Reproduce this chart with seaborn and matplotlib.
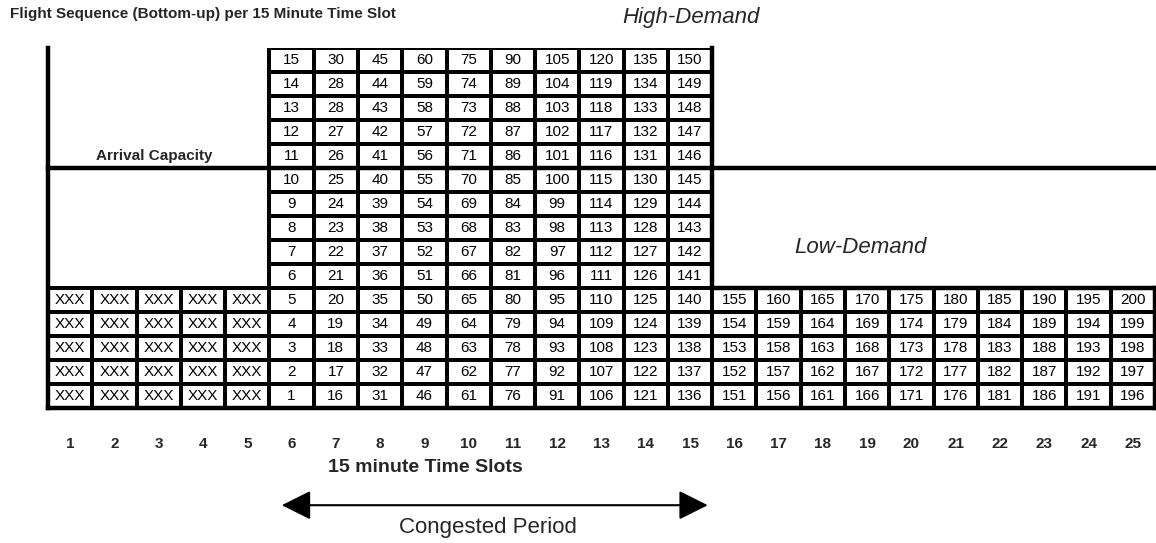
import numpy as np
import matplotlib
matplotlib.use("Agg")
import matplotlib.pyplot as plt
from matplotlib.colors import ListedColormap
import seaborn as sns

# time slots along the bottom
slots = list(range(1, 26))

# slots 1-5: flights already handled (levels 1-5)
early_label = "XXX"
early_slots = [1, 2, 3, 4, 5]

# congested period, slots 6-15, levels 1..15 bottom-up
congested = {
    6: [1, 2, 3, 4, 5, 6, 7, 8, 9, 10, 11, 12, 13, 14, 15],
    7: [16, 17, 18, 19, 20, 21, 22, 23, 24, 25, 26, 27, 28, 28, 30],
    8: [31, 32, 33, 34, 35, 36, 37, 38, 39, 40, 41, 42, 43, 44, 45],
    9: [46, 47, 48, 49, 50, 51, 52, 53, 54, 55, 56, 57, 58, 59, 60],
    10: [61, 62, 63, 64, 65, 66, 67, 68, 69, 70, 71, 72, 73, 74, 75],
    11: [76, 77, 78, 79, 80, 81, 82, 83, 84, 85, 86, 87, 88, 89, 90],
    12: [91, 92, 93, 94, 95, 96, 97, 98, 99, 100, 101, 102, 103, 104, 105],
    13: [106, 107, 108, 109, 110, 111, 112, 113, 114, 115, 116, 117, 118, 119, 120],
    14: [121, 122, 123, 124, 125, 126, 127, 128, 129, 130, 131, 132, 133, 134, 135],
    15: [136, 137, 138, 139, 140, 141, 142, 143, 144, 145, 146, 147, 148, 149, 150],
}

# after congestion, slots 16-25, levels 1..5
late = {
    16: [151, 152, 153, 154, 155],
    17: [156, 157, 158, 159, 160],
    18: [161, 162, 163, 164, 165],
    19: [166, 167, 168, 169, 170],
    20: [171, 172, 173, 174, 175],
    21: [176, 177, 178, 179, 180],
    22: [181, 182, 183, 184, 185],
    23: [186, 187, 188, 189, 190],
    24: [191, 192, 193, 194, 195],
    25: [196, 197, 198, 199, 200],
}

capacity = 10      # arrival capacity per slot
base_levels = 5    # levels outside congestion
n_levels = 15

# build label grid: row 0 = top level
labels = np.full((n_levels, len(slots)), "", dtype=object)
for s in early_slots:
    for lvl in range(1, base_levels + 1):
        labels[n_levels - lvl, s - 1] = early_label
for s, vals in congested.items():
    for lvl, v in enumerate(vals, start=1):
        labels[n_levels - lvl, s - 1] = str(v)
for s, vals in late.items():
    for lvl, v in enumerate(vals, start=1):
        labels[n_levels - lvl, s - 1] = str(v)

mask = labels == ""
values = np.zeros(labels.shape)

sns.set_style("white")
plt.rcParams['font.family'] = ['Liberation Sans', 'DejaVu Sans']

fig = plt.figure(figsize=(11.56, 5.43), dpi=100)
ax = fig.add_axes([48 / 1156, 135 / 543, 1107 / 1156, 360 / 543])

sns.heatmap(values, mask=mask, annot=labels, fmt="", cmap=ListedColormap(["white"]),
            cbar=False, linewidths=1.5, linecolor="black",
            annot_kws={"fontsize": 11, "color": "black"},
            xticklabels=slots, yticklabels=False, ax=ax)

# no borders on empty cells
mesh = ax.collections[0]
edges = [(0, 0, 0, 0) if m else (0, 0, 0, 1) for m in mask.ravel()]
mesh.set_edgecolor(edges)

ax.tick_params(axis="x", length=0, pad=21, labelsize=11, rotation=0)
for t in ax.get_xticklabels():
    t.set_fontweight("bold")

# heavy structural lines
n_cols = len(slots)
first_cong = min(congested) - 1
last_cong = max(congested)
cap_row = n_levels - capacity
base_row = n_levels - base_levels
kw = dict(color="black", lw=3.2, solid_capstyle="projecting", clip_on=False)
ax.plot([0, 0], [0, n_levels], **kw)
ax.plot([0, n_cols], [n_levels, n_levels], **kw)
ax.plot([0, n_cols], [cap_row, cap_row], **kw)
ax.plot([last_cong, last_cong], [0, base_row], **kw)
ax.plot([last_cong, n_cols], [base_row, base_row], **kw)
ax.plot([n_cols, n_cols], [base_row, n_levels], **kw)

# annotations
fig.text(0.009, 1 - 14 / 543, "Flight Sequence (Bottom-up) per 15 Minute Time Slot",
         fontsize=11, fontweight="bold", va="center", ha="left")
fig.text(691 / 1156, 1 - 18 / 543, "High-Demand", fontsize=16, style="italic",
         va="center", ha="center")
ax.text(2.4, cap_row - 0.5, "Arrival Capacity", fontsize=11, fontweight="bold",
        ha="center", va="center")
ax.text(18.35, 8.3, "Low-Demand", fontsize=16, style="italic", ha="center", va="center")
ax.text(8.53, 17.5, "15 minute Time Slots", fontsize=14, fontweight="bold",
        ha="center", va="center", clip_on=False)
ax.annotate("", xy=(first_cong + 0.28, 19.05), xytext=(last_cong - 0.1, 19.05),
            arrowprops=dict(arrowstyle="<|-|>,head_length=1.8,head_width=0.9",
                            mutation_scale=10, lw=1.5, color="black",
                            shrinkA=0, shrinkB=0),
            annotation_clip=False)
ax.text(9.94, 20.0, "Congested Period", fontsize=16, ha="center", va="center",
        clip_on=False)

plt.savefig("out.png", dpi=100)
plt.close()
